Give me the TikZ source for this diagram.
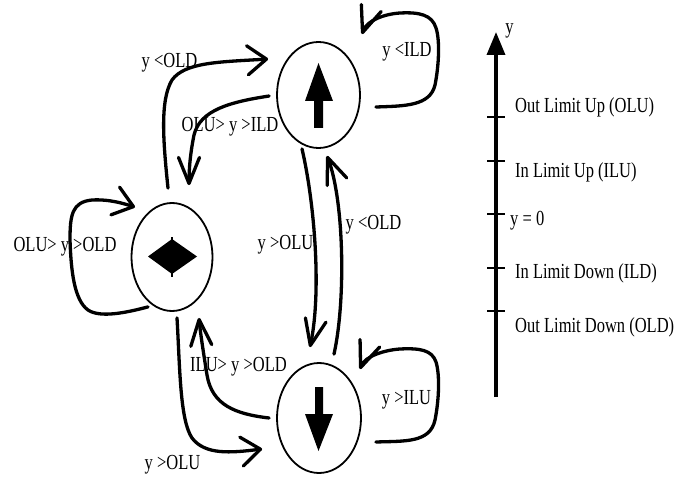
\documentclass[tikz,border=0pt]{standalone}
\usepackage{fontspec}
\setmainfont{Liberation Serif}
\usetikzlibrary{shapes.geometric,arrows.meta,calc}
\newcommand\stretchtxt[1]{\scalebox{1}[1.3]{#1}}
\begin{document}
\begin{tikzpicture}[x=1pt,y=-1pt,
  state/.style={draw,ellipse,line width=1.8pt,inner sep=0pt},
  conn/.style={line width=3.3pt,line cap=round,line join=round},
  harrow/.style={conn,-{Straight Barb[length=19pt,width=29pt,round]}},
  varrow/.style={conn,-{Straight Barb[length=26pt,width=21pt,round]}},
  lbl/.style={inner sep=0pt,font=\fontsize{16.5}{18}\selectfont},
  tick/.style={line width=2.4pt}]
\useasboundingbox (0,0) rectangle (692,478);
% states
\node[state,minimum width=83pt,minimum height=106pt] (up) at (318.5,95) {};
\node[state,minimum width=81pt,minimum height=108pt] (dia) at (172,257) {};
\node[state,minimum width=84pt,minimum height=110pt] (down) at (319,418) {};
% glyphs
\fill (314,128) -- (314,101) -- (305,101) -- (318.5,63) -- (333,101) -- (323,101) -- (323,128) -- cycle;
\fill (315,387) -- (315,414) -- (305,414) -- (318.5,451) -- (333,414) -- (323,414) -- (323,387) -- cycle;
\fill (148,256.5) -- (172,239) -- (197,256.5) -- (172,274) -- cycle;
\fill (171,236.5) rectangle (173,241);
\fill (171,272) rectangle (173,276.5);
% connectors
\draw[harrow] ($(dia.north)+(-4,-14)$) .. controls (163,140) and (160,100) .. (172,80)
   .. controls (185,62) and (220,62) .. ($(up.west)+(-8,-36)$);
\draw[varrow] ($(up.west)+(-7,1)$) .. controls (230,102) and (200,110) .. (194,135)
   .. controls (190,155) and (189,170) .. ($(dia.north)+(17,-17)$);
\draw[harrow] ($(dia.south)+(-24,-5)$) .. controls (125,313) and (100,318) .. (88,310)
   .. controls (74,300) and (71,270) .. (70,240)
   .. controls (70,215) and (72,202) .. (92,200)
   .. controls (110,199) and (125,204) .. ($(dia.north)+(-37,5)$);
\draw[harrow] ($(dia.south)+(5,6)$) .. controls (180,370) and (180,420) .. (192,438)
   .. controls (205,455) and (230,453) .. ($(down.west)+(-14,31)$);
\draw[varrow] ($(down.west)+(-7,0)$) .. controls (235,414) and (212,405) .. (207,375)
   .. controls (203,350) and (200,330) .. ($(dia.south)+(27,6)$);
\draw[varrow] ($(up.south)+(-16.5,0)$) .. controls (314,200) and (322,290) .. ($(down.north)+(-9,-15)$);
\draw[varrow] ($(down.north)+(15,-8)$) .. controls (346,300) and (344,200) .. ($(up.south)+(8.5,7)$);
\draw[varrow] ($(up.east)+(15,12)$) .. controls (405,106) and (430,106) .. (435,85)
   .. controls (439,65) and (440,40) .. (436,28)
   .. controls (432,15) and (420,12) .. (400,13)
   .. controls (385,14) and (367,20) .. ($(up.north)+(43.5,-7)$);
\draw[varrow] ($(down.east)+(14,24)$) .. controls (405,441) and (430,443) .. (435,420)
   .. controls (439,400) and (440,375) .. (436,362)
   .. controls (432,350) and (420,348) .. (400,349)
   .. controls (385,350) and (365,356) .. ($(down.north)+(41,7)$);
% labels on connectors
\node[lbl] (l1) at (169.5,63) {\stretchtxt{y <OLD}};
\node[lbl] (l2) at (230,127) {\stretchtxt{OLU> y >ILD}};
\node[lbl] (l3) at (65,247) {\stretchtxt{OLU> y >OLD}};
\node[lbl] (l4) at (285.5,245) {\stretchtxt{y >OLU}};
\node[lbl] (l5) at (373.5,225) {\stretchtxt{y <OLD}};
\node[lbl] (l6) at (238.5,367) {\stretchtxt{ILU> y >OLD}};
\node[lbl] (l7) at (172.5,465) {\stretchtxt{y >OLU}};
\node[lbl] (l8) at (407,52) {\stretchtxt{y <ILD}};
\node[lbl] (l9) at (406.5,400) {\stretchtxt{y >ILU}};
% axis
\coordinate (axbot) at (496,397);
\coordinate (axtop) at (496,32);
\draw[line width=3.5pt,-{Triangle[length=23pt,width=18pt]}] (axbot) -- (axtop);
\foreach \yy/\nm in {117/t1,161/t2,214/t3,268/t4,311/t5}{
  \coordinate (\nm a) at (487,\yy);
  \coordinate (\nm b) at (505,\yy);
  \draw[tick] (\nm a) -- (\nm b);
}
\node[lbl] (ylab) at (509.5,31) {\stretchtxt{y}};
\node[lbl,anchor=west] (olu) at (515,107) {\stretchtxt{Out Limit Up (OLU)}};
\node[lbl,anchor=west] (ilu) at (515,172) {\stretchtxt{In Limit Up (ILU)}};
\node[lbl,anchor=west] (zero) at (510,221) {\stretchtxt{y = 0}};
\node[lbl,anchor=west] (ild) at (515,273) {\stretchtxt{In Limit Down (ILD)}};
\node[lbl,anchor=west] (old) at (515,327) {\stretchtxt{Out Limit Down (OLD)}};
\end{tikzpicture}
\end{document}
